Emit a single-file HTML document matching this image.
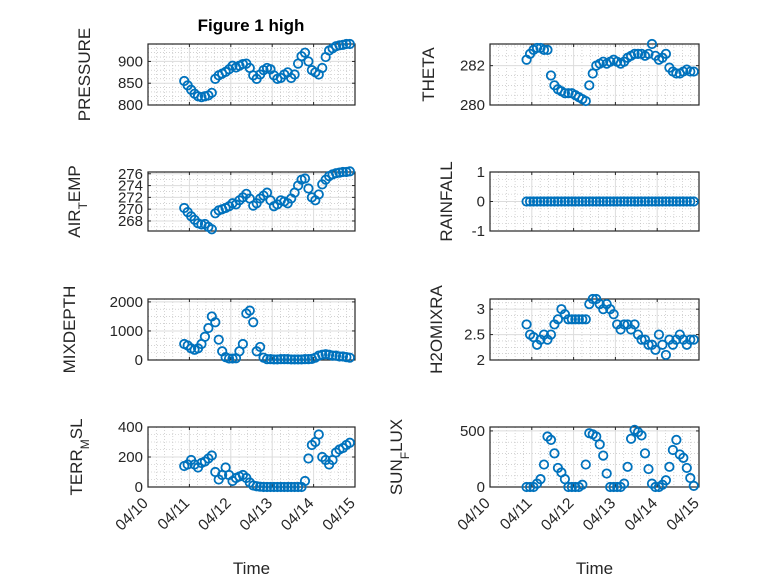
<!DOCTYPE html>
<html><head><meta charset="utf-8"><style>
body{margin:0;background:#fff;}
svg{display:block;font-family:"Liberation Sans","DejaVu Sans",sans-serif;}
</style></head><body>
<svg id="fig" width="778" height="583" viewBox="0 0 778 583" xmlns="http://www.w3.org/2000/svg">
<rect width="778" height="583" fill="#fff"/>
<text x="251" y="31" text-anchor="middle" font-size="17" font-weight="bold" fill="#000">Figure 1 high</text>
</svg>
<script>
const xTickLabels=["04/10","04/11","04/12","04/13","04/14","04/15"];
const tStart=0.875, tStep=1/12;
const pressure=[855,845,835,826,820,818,820,822,828,860,868,872,876,882,890,886,890,894,895,885,868,860,870,880,885,882,868,860,862,870,875,862,870,895,912,920,900,880,875,870,885,910,925,930,935,937,938,940,940];
const airTemp=[270.2,269.5,268.8,268.2,267.6,267.4,267.5,267.0,266.6,269.3,269.8,270,270.2,270.5,271,270.8,271.5,272,272.6,271.8,270.6,271,271.8,272.3,272.8,271.5,270.5,270.8,271.5,271.3,271,271.8,272.8,274,275,275.2,273.5,272,271.5,272.5,274.2,275,275.6,275.9,276.1,276.2,276.3,276.3,276.4];
const mixDepth=[550,500,400,350,400,550,800,1100,1500,1300,700,300,100,50,50,60,300,550,1600,1700,1300,300,450,80,30,30,20,20,30,30,30,20,20,20,20,30,30,40,80,150,180,200,180,150,150,120,120,100,80];
const terrMsl=[140,150,180,150,130,160,170,190,210,100,50,80,130,80,40,60,70,80,60,30,10,5,2,0,0,0,0,0,0,0,0,0,0,0,0,40,190,280,300,350,200,180,150,180,230,250,260,280,295];
const theta=[282.3,282.6,282.8,282.9,282.9,282.8,282.8,281.5,281.0,280.8,280.7,280.6,280.6,280.6,280.5,280.4,280.3,280.2,281.0,281.6,282.0,282.1,282.2,282.1,282.2,282.3,282.2,282.1,282.2,282.4,282.5,282.6,282.6,282.6,282.5,282.6,283.1,282.5,282.3,282.4,282.6,281.9,281.7,281.6,281.6,281.7,281.8,281.7,281.7];
const rainfall=[0,0,0,0,0,0,0,0,0,0,0,0,0,0,0,0,0,0,0,0,0,0,0,0,0,0,0,0,0,0,0,0,0,0,0,0,0,0,0,0,0,0,0,0,0,0,0,0,0];
const h2oMix=[2.7,2.5,2.45,2.3,2.4,2.5,2.4,2.5,2.7,2.8,3.0,2.9,2.8,2.8,2.8,2.8,2.8,2.8,3.1,3.2,3.2,3.1,3.0,3.1,3.0,2.9,2.7,2.6,2.7,2.7,2.6,2.7,2.5,2.4,2.4,2.3,2.3,2.2,2.5,2.3,2.1,2.4,2.3,2.4,2.5,2.4,2.3,2.4,2.4];
const sunFlux=[0,0,0,30,70,200,450,420,300,170,130,70,0,0,0,0,20,200,480,470,450,380,280,120,0,0,0,0,30,180,430,510,490,460,300,160,30,0,0,20,60,180,330,420,290,260,170,80,10];

const NS="http://www.w3.org/2000/svg";
const svg=document.getElementById('fig');
function mk(tag,attrs,parent){const e=document.createElementNS(NS,tag);for(const k in attrs)e.setAttribute(k,attrs[k]);(parent||svg).appendChild(e);return e;}
const cols=[[148,355],[490,699]];
const rows=[[44,105],[172,231],[299,360],[427,487]];
const panels=[
 {name:"pressure",data:pressure,c:0,r:0,ylim:[800,940],ticks:[800,850,900],minor:10,label:"PRESSURE",lx:90},
 {name:"theta",data:theta,c:1,r:0,ylim:[280,283.1],ticks:[280,282],minor:0.5,label:"THETA",lx:434},
 {name:"air-temp",data:airTemp,c:0,r:1,ylim:[266.3,276.3],ticks:[268,270,272,274,276],minor:1,label:"AIR<tspan baseline-shift='sub' font-size='12'>T</tspan>EMP",lx:80},
 {name:"rainfall",data:rainfall,c:1,r:1,ylim:[-1,1],ticks:[-1,0,1],minor:0.25,label:"RAINFALL",lx:452},
 {name:"mixdepth",data:mixDepth,c:0,r:2,ylim:[0,2100],ticks:[0,1000,2000],minor:250,label:"MIXDEPTH",lx:75},
 {name:"h2omixra",data:h2oMix,c:1,r:2,ylim:[2,3.2],ticks:[2,2.5,3],minor:0.125,label:"H2OMIXRA",lx:442},
 {name:"terr-msl",data:terrMsl,c:0,r:3,ylim:[0,400],ticks:[0,200,400],minor:50,label:"TERR<tspan baseline-shift='sub' font-size='12'>M</tspan>SL",lx:82},
 {name:"sun-flux",data:sunFlux,c:1,r:3,ylim:[0,535],ticks:[0,500],minor:100,label:"SUN<tspan baseline-shift='sub' font-size='12'>F</tspan>LUX",lx:402}
];
panels.forEach(p=>{
 const [x0,x1]=cols[p.c],[y0,y1]=rows[p.r];
 const xs=d=>x0+(d-0)/5*(x1-x0);
 const ys=v=>y1-(v-p.ylim[0])/(p.ylim[1]-p.ylim[0])*(y1-y0);
 const g=mk('g',{});
 
 
 for(let d=0;d<=5.001;d+=0.2){if(Math.abs(d-Math.round(d))<1e-6)continue;const x=xs(d);mk('line',{x1:x,x2:x,y1:y0,y2:y1,stroke:'#b8b8b8','stroke-width':0.6,'stroke-dasharray':'1 2'},g);}
 const s0=Math.ceil(p.ylim[0]/p.minor)*p.minor;
 for(let v=s0;v<=p.ylim[1]+1e-9;v+=p.minor){if(p.ticks.some(t=>Math.abs(t-v)<1e-6))continue;const y=ys(v);mk('line',{x1:x0,x2:x1,y1:y,y2:y,stroke:'#b8b8b8','stroke-width':0.6,'stroke-dasharray':'1 2'},g);}
 for(let d=1;d<5;d++){const x=xs(d);mk('line',{x1:x,x2:x,y1:y0,y2:y1,stroke:'#dcdcdc','stroke-width':1},g);}
 p.ticks.forEach(t=>{const y=ys(t);mk('line',{x1:x0,x2:x1,y1:y,y2:y,stroke:'#dcdcdc','stroke-width':1},g);
  const tl=mk('text',{x:x0-5,y:y+5,'text-anchor':'end','font-size':15,fill:'#262626'},g);tl.textContent=t;
  
  
  mk('line',{x1:x0,x2:x0+3,y1:y,y2:y,stroke:'#262626'},g);mk('line',{x1:x1,x2:x1-3,y1:y,y2:y,stroke:'#262626'},g);});
 for(let d=0;d<=5;d++){const x=xs(d);mk('line',{x1:x,x2:x,y1:y1,y2:y1-3,stroke:'#262626'},g);mk('line',{x1:x,x2:x,y1:y0,y2:y0+3,stroke:'#262626'},g);}
 mk('rect',{x:x0,y:y0,width:x1-x0,height:y1-y0,fill:'none',stroke:'#262626','stroke-width':1.2},g);
 p.data.forEach((v,i)=>{const c=mk('circle',{cx:xs(tStart+i*tStep),cy:ys(v),r:4.2,fill:'none',stroke:'#0072BD','stroke-width':1.8},g);
  
  });
 const cy=(y0+y1)/2;
 const yl=mk('text',{x:p.lx,y:cy,'text-anchor':'middle','font-size':17,fill:'#262626',transform:`rotate(-90 ${p.lx} ${cy})`},g);
 yl.innerHTML=p.label;
 
 
 if(p.r===3){
  xTickLabels.forEach((lab,d)=>{const x=xs(d)+1,y=y1+17;
   const t=mk('text',{x:x,y:y,'text-anchor':'end','font-size':15.5,fill:'#262626',transform:`rotate(-45 ${x} ${y})`},g);t.textContent=lab;
   
   });
  const xt=mk('text',{x:(x0+x1)/2,y:574,'text-anchor':'middle','font-size':17,fill:'#262626'},g);xt.textContent='Time';
  
  
 }
});
</script>
</body></html>
